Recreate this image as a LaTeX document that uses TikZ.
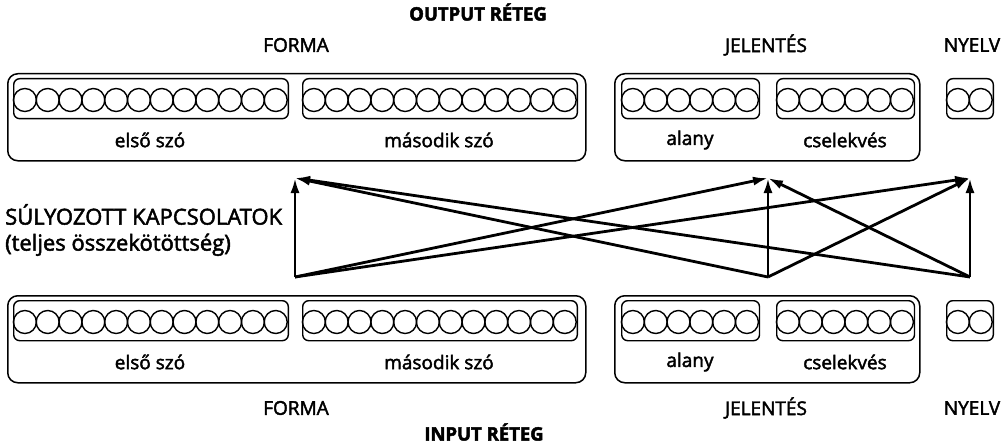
\documentclass[tikz,border=0pt]{standalone}
\usepackage{fontspec}
\setmainfont{Open Sans}
\newfontfamily\medfont[FakeBold=2.2]{Open Sans}
\newfontfamily\heavyfont[FakeBold=2.5]{Open Sans Bold}
\usetikzlibrary{arrows.meta}
\newcommand\mkbank[5]{% name, x0, top y, n, spacing
  \pgfmathsetmacro\bw{#4*#5+1}
  \node[bank, anchor=north west, minimum width=\bw pt, minimum height=40pt] (#1) at (#2,#3) {};
  \foreach \k in {1,...,#4} {
    \node[unit] (#1c\k) at ({#2+0.5+#5/2+(\k-1)*#5},{#3+22}) {};
  }
}
\newcommand\mklayer[2]{% prefix, top y
  \node[outerbox, anchor=north west, minimum width=578pt, minimum height=87pt] (#1forma) at (7,#2) {};
  \node[outerbox, anchor=north west, minimum width=305pt, minimum height=87pt] (#1jel) at (614,#2) {};
  \mkbank{#1bA}{13}{#2+5}{12}{22.8}
  \mkbank{#1bB}{302}{#2+5}{12}{22.8}
  \mkbank{#1bC}{621}{#2+5}{6}{22.8}
  \mkbank{#1bD}{776}{#2+5}{6}{22.8}
  \mkbank{#1bE}{946}{#2+5}{2}{22.8}
  \node[lbl] (#1tA) at (150,#2+67) {első szó};
  \node[lbl] (#1tB) at (439,#2+67) {második szó};
  \node[lbl] (#1tC) at (690,#2+67) {alany};
  \node[lbl] (#1tD) at (845,#2+67) {cselekvés};
}
\begin{document}
\begin{tikzpicture}[x=1pt,y=-1pt,
  outerbox/.style={draw, line width=1.5pt, rounded corners=10pt, inner sep=0pt},
  bank/.style={draw, line width=1.4pt, rounded corners=6pt, inner sep=0pt},
  unit/.style={draw, circle, line width=1.4pt, minimum size=23pt, inner sep=0pt},
  lbl/.style={font=\medfont\fontsize{19}{22}\selectfont, inner sep=0pt},
  ttl/.style={font=\heavyfont\fontsize{18.5}{20}\selectfont, inner sep=0pt},
  conn/.style={line width=2.8pt, -{Latex[length=15pt,width=9pt]}}
]
\useasboundingbox (0,0) rectangle (1005,444);

% titles and group labels
\node[ttl] (outtitle) at (478,12) {OUTPUT RÉTEG};
\node[lbl] (oforml) at (296,45) {FORMA};
\node[lbl] (ojell) at (766,45) {JELENTÉS};
\node[lbl] (onyl) at (972,45) {NYELV};

\mklayer{o}{73}
\mklayer{i}{295}

\node[lbl] (iforml) at (296,408) {FORMA};
\node[lbl] (ijell) at (766,408) {JELENTÉS};
\node[lbl] (inyl) at (972,408) {NYELV};
\node[ttl] (intitle) at (484,432) {INPUT RÉTEG};

% weighted connections label
\node[lbl, anchor=west, align=left, font=\medfont\fontsize{22}{26}\selectfont] (wlabel) at (5,230)
  {SÚLYOZOTT KAPCSOLATOK\\(teljes összekötöttség)};

% connection points
\coordinate (tL) at (295,178);
\coordinate (tM) at (768,178);
\coordinate (tR) at (970,178);
\coordinate (bL) at (295,277);
\coordinate (bM) at (768,277);
\coordinate (bR) at (970,277);

\foreach \s in {bL,bM,bR} {
  \foreach \t in {tL,tM,tR} {
    \draw[conn] (\s) -- (\t);
  }
}
\end{tikzpicture}
\end{document}
